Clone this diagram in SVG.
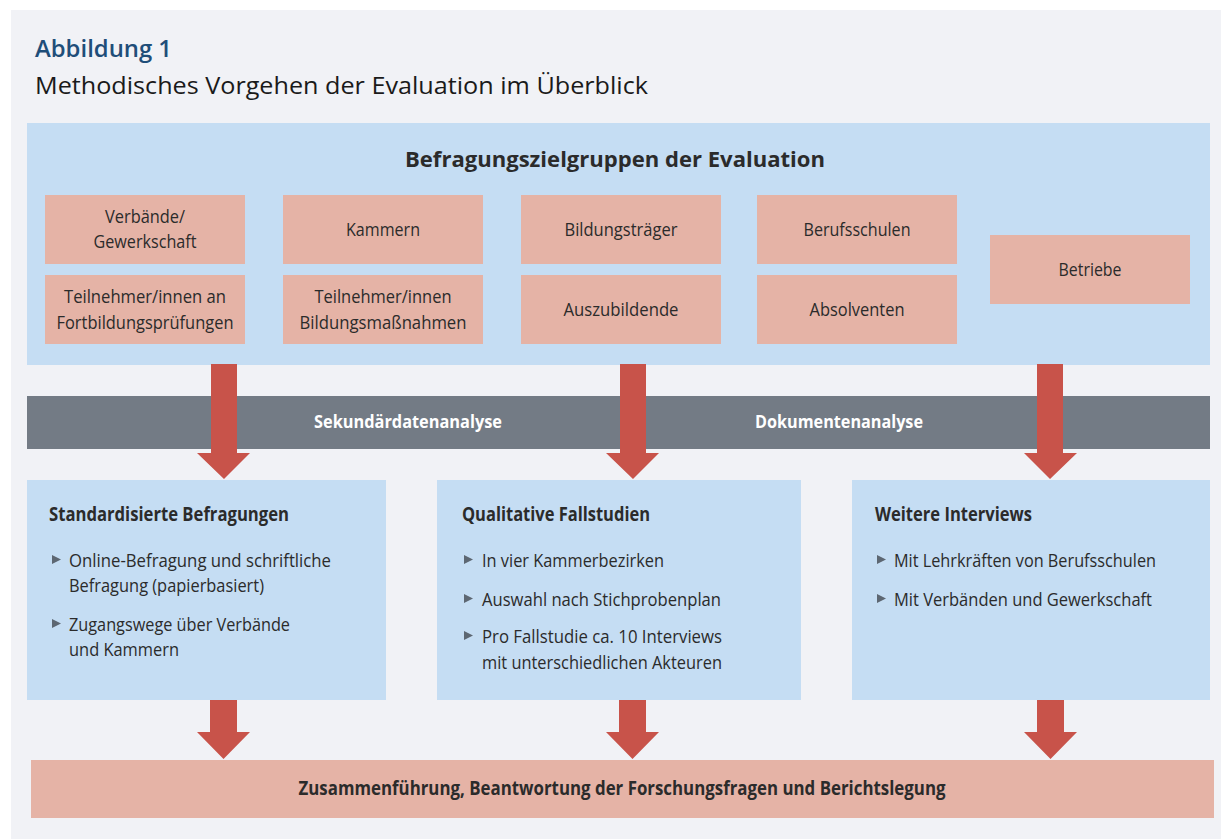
<svg xmlns="http://www.w3.org/2000/svg" width="1221" height="839" viewBox="0 0 1221 839">
<defs>
<style>
text{font-family:"Liberation Sans Narrow","Open Sans","Liberation Sans",sans-serif;fill:#2b2b2b;}
.pk{fill:#e5b3a6;}
.bl{fill:#c5ddf3;}
.t{font-size:19px;text-anchor:middle;}
.h{font-size:19px;font-weight:bold;}
.b{font-size:19px;}
.w{fill:#ffffff;font-size:18px;font-weight:bold;text-anchor:middle;}
.arr{fill:#c8534a;}
.bul{fill:#5d6772;}
</style>
</defs>
<rect x="0" y="0" width="1221" height="839" fill="#ffffff"/>
<rect x="11" y="10" width="1210" height="829" fill="#f1f2f6"/>
<text x="35" y="57" style="font-size:24px;fill:#1f4e79;font-weight:600" textLength="137" lengthAdjust="spacingAndGlyphs">Abbildung 1</text>
<text x="35" y="94" style="font-size:24px;fill:#1a1a1a" textLength="613" lengthAdjust="spacingAndGlyphs">Methodisches Vorgehen der Evaluation im Überblick</text>

<g id="zielgruppen">
<rect class="bl" x="27" y="123" width="1183" height="242"/>
<text x="615" y="167" style="font-size:21px;font-weight:bold;text-anchor:middle" textLength="420" lengthAdjust="spacingAndGlyphs">Befragungszielgruppen der Evaluation</text>
</g>
<g id="n-verbaende"><rect class="pk" x="45" y="195" width="200" height="69"/><text class="t" x="145" y="223" textLength="80" lengthAdjust="spacingAndGlyphs">Verbände/</text><text class="t" x="145" y="248" textLength="103" lengthAdjust="spacingAndGlyphs">Gewerkschaft</text></g>
<g id="n-kammern"><rect class="pk" x="283" y="195" width="200" height="69"/><text class="t" x="383" y="236" textLength="74" lengthAdjust="spacingAndGlyphs">Kammern</text></g>
<g id="n-bildungstraeger"><rect class="pk" x="521" y="195" width="200" height="69"/><text class="t" x="621" y="236" textLength="113" lengthAdjust="spacingAndGlyphs">Bildungsträger</text></g>
<g id="n-berufsschulen"><rect class="pk" x="757" y="195" width="200" height="69"/><text class="t" x="857" y="236" textLength="107" lengthAdjust="spacingAndGlyphs">Berufsschulen</text></g>
<g id="n-betriebe"><rect class="pk" x="990" y="235" width="200" height="69"/><text class="t" x="1090" y="276" textLength="63" lengthAdjust="spacingAndGlyphs">Betriebe</text></g>
<g id="n-tn-fortbildung"><rect class="pk" x="45" y="275" width="200" height="69"/><text class="t" x="145" y="303" textLength="162" lengthAdjust="spacingAndGlyphs">Teilnehmer/innen an</text><text class="t" x="145" y="329" textLength="177" lengthAdjust="spacingAndGlyphs">Fortbildungsprüfungen</text></g>
<g id="n-tn-bildung"><rect class="pk" x="283" y="275" width="200" height="69"/><text class="t" x="383" y="303" textLength="137" lengthAdjust="spacingAndGlyphs">Teilnehmer/innen</text><text class="t" x="383" y="329" textLength="167" lengthAdjust="spacingAndGlyphs">Bildungsmaßnahmen</text></g>
<g id="n-azubis"><rect class="pk" x="521" y="275" width="200" height="69"/><text class="t" x="621" y="316" textLength="115" lengthAdjust="spacingAndGlyphs">Auszubildende</text></g>
<g id="n-absolventen"><rect class="pk" x="757" y="275" width="200" height="69"/><text class="t" x="857" y="316" textLength="95" lengthAdjust="spacingAndGlyphs">Absolventen</text></g>

<g id="band">
<rect x="27" y="396" width="1183" height="53" fill="#737b85"/>
<text class="w" x="408" y="428" textLength="188" lengthAdjust="spacingAndGlyphs">Sekundärdatenanalyse</text>
<text class="w" x="839" y="428" textLength="168" lengthAdjust="spacingAndGlyphs">Dokumentenanalyse</text>
</g>

<g id="connectors">
<path class="arr" d="M211 364 H237 V453 H250 L224 479 L197 453 H211 Z"/>
<path class="arr" d="M620 364 H646 V453 H659 L633 479 L606 453 H620 Z"/>
<path class="arr" d="M1037 364 H1063 V453 H1077 L1050 479 L1024 453 H1037 Z"/>
<path class="arr" d="M210 699 H237 V732 H250 L223.5 759 L197 732 H210 Z"/>
<path class="arr" d="M619 699 H646 V732 H659 L632.5 759 L606 732 H619 Z"/>
<path class="arr" d="M1037 699 H1064 V732 H1077 L1050.5 759 L1024 732 H1037 Z"/>
</g>

<g id="n-standardisiert">
<rect class="bl" x="27" y="480" width="359" height="220"/>
<text class="h" x="49" y="521" textLength="240" lengthAdjust="spacingAndGlyphs">Standardisierte Befragungen</text>
<path class="bul" d="M52 555 L61 559.5 L52 564 Z"/>
<text class="b" x="69" y="567" textLength="262" lengthAdjust="spacingAndGlyphs">Online-Befragung und schriftliche</text>
<text class="b" x="69" y="592" textLength="195" lengthAdjust="spacingAndGlyphs">Befragung (papierbasiert)</text>
<path class="bul" d="M52 619 L61 623.5 L52 628 Z"/>
<text class="b" x="69" y="631" textLength="221" lengthAdjust="spacingAndGlyphs">Zugangswege über Verbände</text>
<text class="b" x="69" y="656" textLength="110" lengthAdjust="spacingAndGlyphs">und Kammern</text>
</g>

<g id="n-qualitativ">
<rect class="bl" x="437" y="480" width="364" height="220"/>
<text class="h" x="462" y="521" textLength="188" lengthAdjust="spacingAndGlyphs">Qualitative Fallstudien</text>
<path class="bul" d="M464 555 L473 559.5 L464 564 Z"/>
<text class="b" x="482" y="567" textLength="182" lengthAdjust="spacingAndGlyphs">In vier Kammerbezirken</text>
<path class="bul" d="M464 594 L473 598.5 L464 603 Z"/>
<text class="b" x="482" y="606" textLength="239" lengthAdjust="spacingAndGlyphs">Auswahl nach Stichprobenplan</text>
<path class="bul" d="M464 631 L473 635.5 L464 640 Z"/>
<text class="b" x="482" y="643" textLength="240" lengthAdjust="spacingAndGlyphs">Pro Fallstudie ca. 10 Interviews</text>
<text class="b" x="482" y="669" textLength="240" lengthAdjust="spacingAndGlyphs">mit unterschiedlichen Akteuren</text>
</g>

<g id="n-weitere">
<rect class="bl" x="852" y="480" width="358" height="220"/>
<text class="h" x="875" y="521" textLength="157" lengthAdjust="spacingAndGlyphs">Weitere Interviews</text>
<path class="bul" d="M877 555 L886 559.5 L877 564 Z"/>
<text class="b" x="894" y="567" textLength="262" lengthAdjust="spacingAndGlyphs">Mit Lehrkräften von Berufsschulen</text>
<path class="bul" d="M877 594 L886 598.5 L877 603 Z"/>
<text class="b" x="894" y="606" textLength="258" lengthAdjust="spacingAndGlyphs">Mit Verbänden und Gewerkschaft</text>
</g>

<g id="n-zusammenfuehrung">
<rect class="pk" x="31" y="760" width="1183" height="58"/>
<text x="622" y="795" style="font-size:19px;font-weight:bold;text-anchor:middle" textLength="647" lengthAdjust="spacingAndGlyphs">Zusammenführung, Beantwortung der Forschungsfragen und Berichtslegung</text>
</g>
</svg>
